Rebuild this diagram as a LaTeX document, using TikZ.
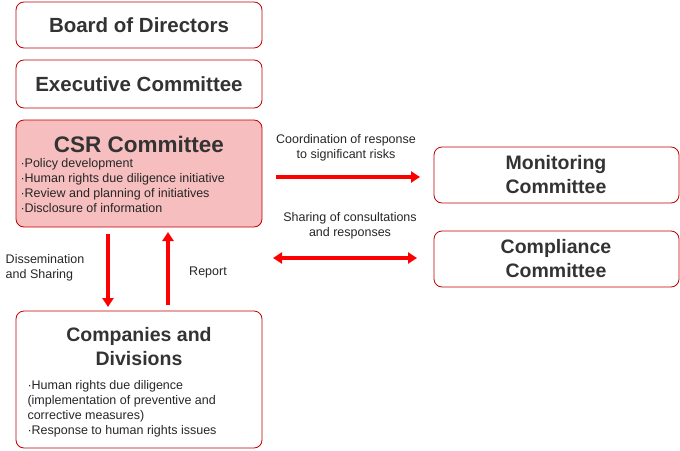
\documentclass[tikz,border=0pt]{standalone}
\usepackage{fontspec}
\setmainfont{Liberation Sans}
\usetikzlibrary{arrows.meta}
\definecolor{boxred}{RGB}{192,0,0}
\definecolor{csrpink}{RGB}{246,190,190}
\begin{document}
\begin{tikzpicture}[x=1pt,y=-1pt]

  \tikzstyle{orgbox} = [draw=boxred, line width=0.8, rounded corners=8]
  \tikzstyle{title} = [font=\fontsize{20.5}{23}\selectfont\bfseries, text=black!80, align=center]
  \tikzstyle{body} = [font=\fontsize{12.5}{15}\selectfont, text=black!85, align=left]
  \tikzstyle{flow} = [draw=red, line width=3.2, -{Triangle[length=9,width=11]}]

  \useasboundingbox (0,0) rectangle (680,450);

  \draw[orgbox] (16,2) rectangle (262,48);
  \node[title] (board) at (139,25) {Board of Directors};

  \draw[orgbox] (16,60) rectangle (262,108);
  \node[title] (exec) at (139,84) {Executive Committee};

  \draw[orgbox, fill=csrpink] (16,120) rectangle (262,227);
  \node[title, font=\fontsize{22.5}{25}\selectfont\bfseries] (csr) at (139,144) {CSR Committee};
  \node[body, anchor=north west] (csrlist) at (17,155)
    {·Policy development\\·Human rights due diligence initiative\\·Review and planning of initiatives\\·Disclosure of information};

  \draw[orgbox] (434,147) rectangle (679,203);
  \node[title, font=\fontsize{19.5}{24}\selectfont\bfseries] (monitor) at (556,175) {Monitoring\\Committee};

  \draw[orgbox] (434,231) rectangle (679,287);
  \node[title, font=\fontsize{19.5}{24}\selectfont\bfseries] (comply) at (556,259) {Compliance\\Committee};

  \draw[orgbox] (16,311) rectangle (262,448);
  \node[title, font=\fontsize{19.5}{24}\selectfont\bfseries] (comp) at (139,347) {Companies and\\Divisions};
  \node[body, anchor=north west] (complist) at (24,377)
    {·Human rights due diligence\\(implementation of preventive and\\corrective measures)\\·Response to human rights issues};

  \coordinate (riskA) at (276,177);
  \coordinate (riskB) at (420,177);
  \draw[flow] (riskA) -- (riskB);
  \node[body, align=center] (risklbl) at (346,148) {Coordination of response\\to significant risks};

  \coordinate (shareA) at (273,258);
  \coordinate (shareB) at (417,258);
  \draw[flow, {Triangle[length=9,width=11]}-{Triangle[length=9,width=11]}] (shareA) -- (shareB);
  \node[body, align=center] (sharelbl) at (350,226) {Sharing of consultations\\and responses};

  \coordinate (downA) at (108,234);
  \coordinate (downB) at (108,307);
  \draw[flow] (downA) -- (downB);
  \node[body] (disslbl) at (45,268) {Dissemination\\and Sharing};

  \coordinate (upA) at (168,305);
  \coordinate (upB) at (168,232);
  \draw[flow] (upA) -- (upB);
  \node[body] (replbl) at (208,272) {Report};

\end{tikzpicture}
\end{document}
